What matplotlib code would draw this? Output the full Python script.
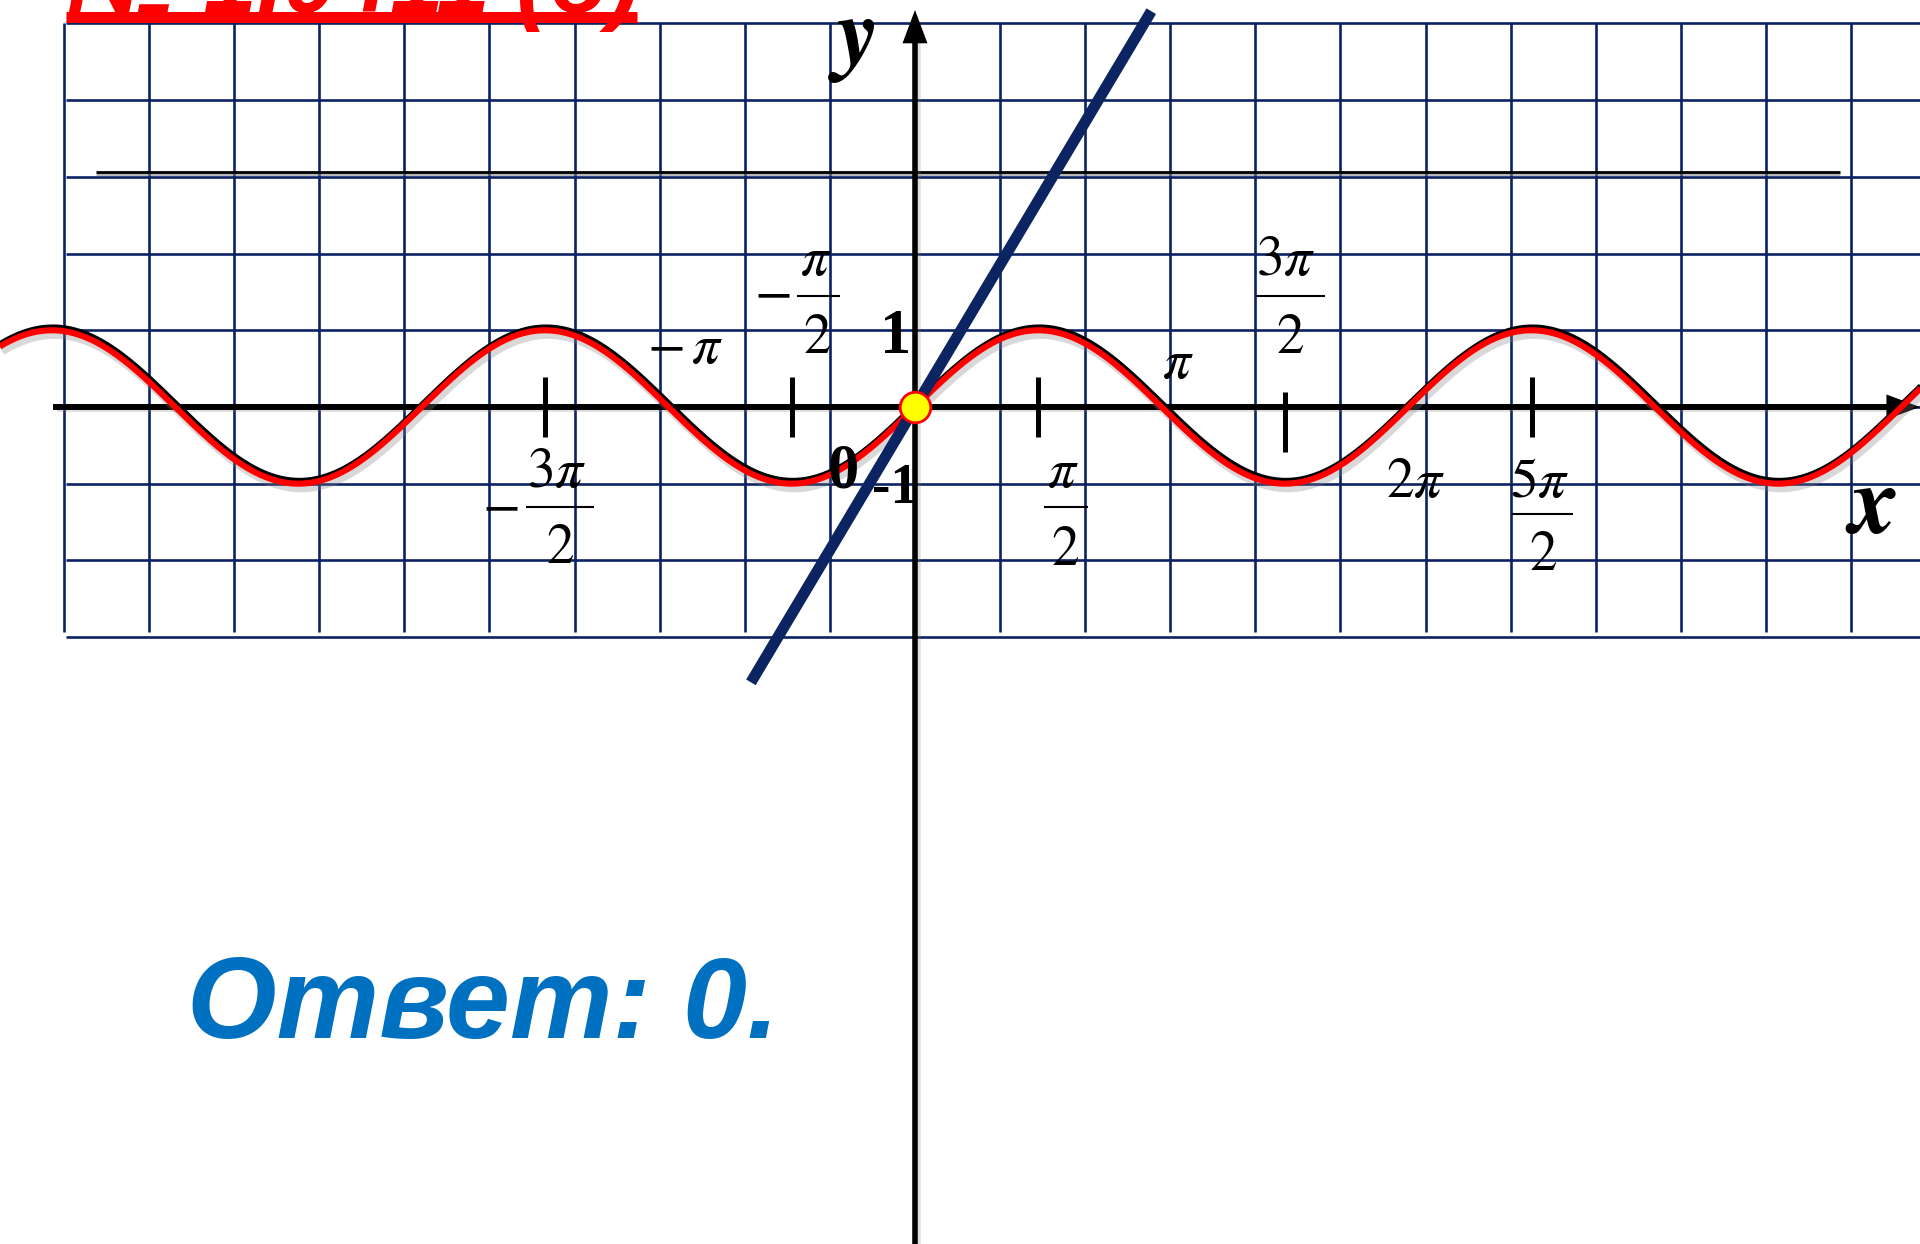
import numpy as np
import matplotlib
matplotlib.use("Agg")
import matplotlib.pyplot as plt
import matplotlib.patheffects as pe

# ---------------- data ----------------
CURVE_X_RANGE = (-11.7, 12.9)          # y = sin x plotted over this range
LINE_X = [-2.09, 3.01]                 # straight line through the origin
LINE_Y = [-3.59, 5.16]
POINT_X, POINT_Y = [0.0], [0.0]        # common point
TICK_X = [-3 * np.pi / 2, -np.pi / 2, np.pi / 2, 3 * np.pi / 2, 5 * np.pi / 2]
TICK_SHIFT = [0.0, 0.0, 0.0, -0.2, 0.0]
GRID_Y = list(range(-3, 6))
GRID_X_K = list(range(-10, 12))
GRID_X_STEP = 1.0841
HLINE_Y = 3.07
ANSWER = "Ответ: 0."
TITLE = "№ 1.0411 (б)"

# ---------------- style ----------------
plt.rcParams["mathtext.fontset"] = "stix"
NAVY = "#0b2265"
BLUE_LINE = "#0c2461"
SERIF = "Liberation Serif"
STIX = "STIXGeneral"

fig = plt.figure(figsize=(19.2, 12.44), dpi=100)
ax = fig.add_axes([0, 0, 1, 1])
ax.set_xlim(-11.656, 12.803)
ax.set_ylim(-10.913, 5.306)
ax.axis("off")

# graph paper grid
gx = [k * GRID_X_STEP for k in GRID_X_K]
ax.vlines(gx, -2.93, 5.0, color=NAVY, lw=1.9, zorder=1)
ax.hlines(GRID_Y, -10.81, 12.9, color=NAVY, lw=1.9, zorder=1)

# thin black line above
ax.hlines(HLINE_Y, -10.43, 11.78, color="black", lw=2.0, zorder=2,
          path_effects=[pe.SimpleLineShadow(offset=(0, -1.5), shadow_color="gray", alpha=0.6),
                        pe.Normal()])

# axes with arrows
line_shadow = [pe.SimpleLineShadow(offset=(2.5, -1.5), shadow_color="gray", alpha=0.25), pe.Normal()]
ax.plot([-10.98, 12.6], [0, 0], color="black", lw=4.3, solid_capstyle="butt", zorder=3,
        path_effects=line_shadow)
ax.plot([0, 0], [-10.95, 5.0], color="black", lw=4.0, solid_capstyle="butt", zorder=3,
        path_effects=line_shadow)
head = dict(arrowstyle="-|>,head_length=2.4,head_width=0.9", mutation_scale=10,
            lw=0, fc="black", ec="black", shrinkA=0, shrinkB=0)
ax.annotate("", xy=(12.80, 0), xytext=(12.3, 0), arrowprops=head, zorder=3)
ax.annotate("", xy=(0, 5.176), xytext=(0, 4.7), arrowprops=head, zorder=3)

# ticks on x axis
for tx, sh in zip(TICK_X, TICK_SHIFT):
    ax.vlines(tx, -0.39 + sh, 0.39 + sh, color="black", lw=3.6, zorder=3)

# sine curve
xs = np.linspace(CURVE_X_RANGE[0], CURVE_X_RANGE[1], 3000)
ys = np.sin(xs)
ax.plot(xs, ys, color="#ff0000", lw=4.4, zorder=5, solid_capstyle="butt",
        path_effects=[pe.SimpleLineShadow(offset=(2, -4), shadow_color="gray", alpha=0.3),
                      pe.SimpleLineShadow(offset=(0.7, 2.0), shadow_color="black", alpha=1.0),
                      pe.Normal()])

# straight line
ax.plot(LINE_X, LINE_Y, color=BLUE_LINE, lw=8.0, solid_capstyle="butt", zorder=6)

# intersection point
ax.plot(POINT_X, POINT_Y, "o", ms=22, mfc="#ffff00", mec="#ff0000", mew=2, zorder=10)

# ---------------- labels ----------------
FS = 40


def t(x, y, s, fs=FS, **kw):
    ax.text(x, y, s, fontsize=fs, ha="center", va="baseline", zorder=7, **kw)


def frac(num, den, cx_num, yb_num, cx_den, yb_den, bar_x0, bar_x1, bar_y, minus=None):
    t(cx_num, yb_num, num)
    t(cx_den, yb_den, den)
    ax.hlines(bar_y, bar_x0, bar_x1, color="black", lw=1.5, zorder=7)
    if minus is not None:
        t(minus[0], minus[1], r"$-$")


frac(r"$3\pi$", r"$2$", -4.561, -1.043, -4.522, -2.034, -4.955, -4.089, -1.304, minus=(-5.287, -1.486))
t(-2.93, 0.574, r"$-\,\pi$")
frac(r"$\pi$", r"$2$", -1.261, 1.721, -1.248, 0.704, -1.503, -0.955, 1.447, minus=(-1.822, 1.291))
frac(r"$\pi$", r"$2$", 1.885, -1.043, 1.911, -2.060, 1.643, 2.204, -1.304)
t(3.35, 0.378, r"$\pi$")
frac(r"$3\pi$", r"$2$", 4.726, 1.721, 4.777, 0.704, 4.344, 5.223, 1.447)
t(6.382, -1.173, r"$2\pi$")
frac(r"$5\pi$", r"$2$", 7.962, -1.173, 8.0, -2.125, 7.605, 8.382, -1.395)

t(-0.242, 0.704, "1", fs=45, family=SERIF, weight="bold")
t(-0.917, -1.056, "0", fs=45, family=SERIF, weight="bold")
t(-0.255, -1.252, "-1", fs=40, family=SERIF, weight="bold")
t(12.217, -1.643, "x", fs=70, family=STIX, weight="bold", style="italic")
t(-0.726, 4.485, "y", fs=68, family=STIX, weight="bold", style="italic")

# answer
ax.text(-9.274, -8.227, ANSWER, fontsize=83, color="#0070c0", family="Liberation Sans",
        weight="bold", style="italic", ha="left", va="baseline", zorder=7)

# title (cut off at the top, as in the slide)
ax.text(-10.80, 5.150, TITLE, fontsize=69, color="#ff0000", family="Liberation Sans",
        weight="bold", style="italic", ha="left", va="baseline", zorder=7, clip_on=False)
ax.hlines(5.078, -10.815, -3.541, color="#ff0000", lw=7.9, zorder=7)

fig.savefig("out.png", dpi=100)
